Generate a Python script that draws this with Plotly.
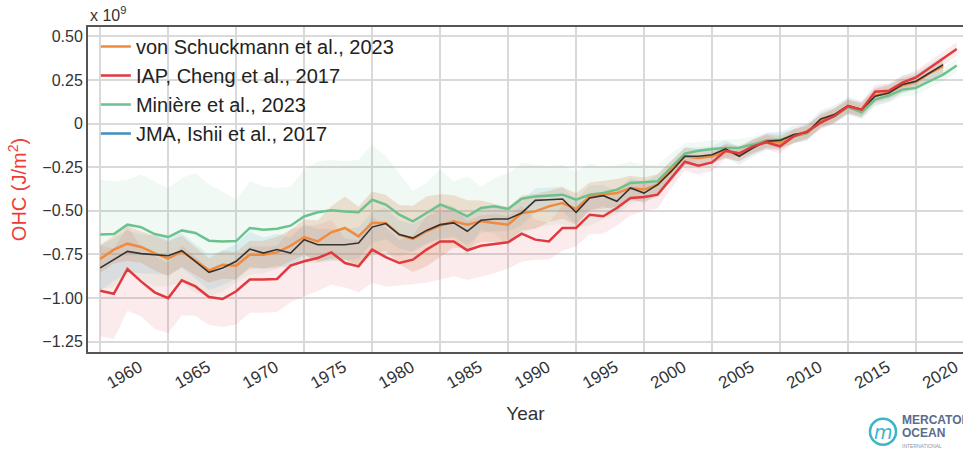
import plotly.graph_objects as go

# ---------------- data (values in units of 1e9 J/m2) ----------------
years_vs = list(range(1958, 2021))     # von Schuckmann et al., 2023
years_iap = list(range(1958, 2022))    # IAP, Cheng et al., 2017
years_min = list(range(1958, 2022))    # Minière et al., 2023
years_jma = list(range(1958, 2021))    # JMA, Ishii et al., 2017

vs_values = [
    -0.776, -0.722, -0.688, -0.707, -0.742, -0.774, -0.732, -0.789, -0.841, -0.809,
    -0.814, -0.751, -0.751, -0.738, -0.700, -0.650, -0.675, -0.623, -0.598, -0.646,
    -0.569, -0.569, -0.636, -0.661, -0.617, -0.585, -0.560, -0.579, -0.560, -0.569,
    -0.579, -0.512, -0.503, -0.474, -0.455, -0.489, -0.417, -0.407, -0.398, -0.369,
    -0.378, -0.350, -0.264, -0.187, -0.197, -0.187, -0.159, -0.175, -0.135, -0.100,
    -0.110, -0.070, -0.050, 0.020, 0.050, 0.100, 0.080, 0.160, 0.180, 0.220,
    0.240, 0.290, 0.330,
]
vs_unc = [
    0.08, 0.08, 0.10, 0.09, 0.10, 0.10, 0.09, 0.08, 0.07, 0.08,
    0.08, 0.08, 0.08, 0.09, 0.09, 0.10, 0.12, 0.15, 0.18, 0.17,
    0.18, 0.16, 0.17, 0.19, 0.20, 0.18, 0.15, 0.14, 0.12, 0.11,
    0.10, 0.10, 0.10, 0.09, 0.09, 0.09, 0.08, 0.08, 0.08, 0.07,
    0.07, 0.06, 0.05, 0.05, 0.05, 0.04, 0.04, 0.04, 0.04, 0.04,
    0.04, 0.04, 0.04, 0.04, 0.04, 0.04, 0.04, 0.04, 0.04, 0.04,
    0.04, 0.04, 0.04,
]

iap_values = [
    -0.958, -0.975, -0.833, -0.904, -0.967, -1.000, -0.898, -0.933, -0.994, -1.005,
    -0.961, -0.894, -0.894, -0.890, -0.814, -0.789, -0.770, -0.738, -0.799, -0.818,
    -0.722, -0.765, -0.799, -0.780, -0.722, -0.675, -0.675, -0.726, -0.700, -0.688,
    -0.680, -0.631, -0.665, -0.675, -0.598, -0.598, -0.522, -0.531, -0.484, -0.426,
    -0.421, -0.407, -0.310, -0.218, -0.241, -0.222, -0.156, -0.170, -0.130, -0.107,
    -0.130, -0.073, -0.044, 0.006, 0.044, 0.100, 0.080, 0.183, 0.188, 0.235,
    0.265, 0.319, 0.373, 0.428,
]
iap_unc = [
    0.26, 0.26, 0.24, 0.20, 0.21, 0.20, 0.20, 0.17, 0.16, 0.16,
    0.19, 0.19, 0.19, 0.19, 0.21, 0.20, 0.19, 0.185, 0.14, 0.15,
    0.19, 0.17, 0.13, 0.14, 0.19, 0.22, 0.20, 0.17, 0.175, 0.17,
    0.15, 0.16, 0.115, 0.105, 0.13, 0.105, 0.11, 0.10, 0.10, 0.10,
    0.08, 0.08, 0.06, 0.05, 0.05, 0.05, 0.045, 0.045, 0.04, 0.04,
    0.04, 0.04, 0.04, 0.04, 0.04, 0.04, 0.04, 0.04, 0.04, 0.04,
    0.04, 0.04, 0.04, 0.04,
]

min_values = [
    -0.636, -0.633, -0.579, -0.593, -0.633, -0.650, -0.612, -0.627, -0.671, -0.675,
    -0.673, -0.598, -0.608, -0.602, -0.585, -0.532, -0.508, -0.497, -0.503, -0.508,
    -0.436, -0.464, -0.522, -0.560, -0.512, -0.464, -0.493, -0.531, -0.483, -0.474,
    -0.489, -0.430, -0.417, -0.413, -0.407, -0.436, -0.407, -0.398, -0.378, -0.340,
    -0.336, -0.330, -0.250, -0.172, -0.155, -0.145, -0.140, -0.138, -0.120, -0.096,
    -0.092, -0.073, -0.054, 0.013, 0.042, 0.095, 0.065, 0.138, 0.161, 0.195,
    0.205, 0.243, 0.281, 0.333,
]
min_unc = [
    0.315, 0.302, 0.258, 0.301, 0.302, 0.281, 0.300, 0.344, 0.321, 0.287,
    0.237, 0.267, 0.248, 0.233, 0.225, 0.268, 0.292, 0.290, 0.287, 0.301,
    0.316, 0.277, 0.239, 0.172, 0.172, 0.200, 0.162, 0.229, 0.123, 0.162,
    0.206, 0.204, 0.18, 0.17, 0.17, 0.16, 0.18, 0.15, 0.14, 0.12,
    0.10, 0.09, 0.08, 0.06, 0.05, 0.05, 0.05, 0.05, 0.045, 0.04,
    0.04, 0.04, 0.04, 0.04, 0.04, 0.04, 0.04, 0.04, 0.04, 0.04,
    0.04, 0.04, 0.04, 0.04,
]

jma_values = [
    -0.827, -0.780, -0.732, -0.745, -0.751, -0.757, -0.728, -0.789, -0.852, -0.827,
    -0.789, -0.719, -0.742, -0.722, -0.742, -0.665, -0.694, -0.694, -0.694, -0.684,
    -0.593, -0.573, -0.636, -0.656, -0.612, -0.579, -0.569, -0.617, -0.554, -0.547,
    -0.547, -0.512, -0.440, -0.436, -0.432, -0.508, -0.426, -0.413, -0.445, -0.369,
    -0.398, -0.350, -0.274, -0.187, -0.187, -0.178, -0.145, -0.187, -0.140, -0.101,
    -0.096, -0.063, -0.050, 0.027, 0.052, 0.103, 0.080, 0.157, 0.176, 0.224,
    0.243, 0.290, 0.338,
]
jma_unc = [
    0.13, 0.12, 0.12, 0.11, 0.11, 0.11, 0.10, 0.10, 0.10, 0.10,
    0.10, 0.10, 0.09, 0.09, 0.09, 0.09, 0.09, 0.09, 0.09, 0.09,
    0.09, 0.09, 0.08, 0.08, 0.08, 0.08, 0.08, 0.08, 0.07, 0.07,
    0.07, 0.07, 0.07, 0.07, 0.07, 0.07, 0.07, 0.06, 0.06, 0.06,
    0.06, 0.06, 0.06, 0.05, 0.05, 0.05, 0.05, 0.05, 0.05, 0.05,
    0.05, 0.05, 0.05, 0.05, 0.05, 0.05, 0.05, 0.05, 0.05, 0.05,
    0.05, 0.05, 0.05,
]

tick_years = [1960, 1965, 1970, 1975, 1980, 1985, 1990, 1995, 2000, 2005, 2010, 2015, 2020]
tick_labels = [str(y) for y in tick_years]
grid_years = [1958, 1963, 1968, 1973, 1978, 1983, 1988, 1993, 1998, 2003, 2008, 2013, 2018]
y_ticks = [-1.25, -1.0, -0.75, -0.5, -0.25, 0, 0.25, 0.5]
y_tick_labels = ["\u22121.25", "\u22121.00", "\u22120.75", "\u22120.50", "\u22120.25", "0", "0.25", "0.50"]

# ---------------- styling ----------------
C_ORANGE = "#f28a3c"
C_RED = "#e0393e"
C_GREEN = "#6cc28e"
C_BLUE = "#3f8fbf"
C_BLACK = "#333333"
FONT = "Liberation Sans, Arial, Helvetica, sans-serif"


def band(x, v, u, fillcolor):
    upper = [a + b for a, b in zip(v, u)]
    lower = [a - b for a, b in zip(v, u)]
    return go.Scatter(
        x=list(x) + list(x)[::-1],
        y=upper + lower[::-1],
        fill="toself",
        fillcolor=fillcolor,
        line=dict(width=0),
        mode="lines",
        hoverinfo="skip",
        showlegend=False,
    )


fig = go.Figure()
fig.add_trace(band(years_min, min_values, min_unc, "rgba(108,194,142,0.10)"))
fig.add_trace(band(years_iap, iap_values, iap_unc, "rgba(230,90,95,0.12)"))
fig.add_trace(band(years_jma, jma_values, jma_unc, "rgba(110,180,215,0.16)"))
fig.add_trace(band(years_vs, vs_values, vs_unc, "rgba(210,120,60,0.20)"))

fig.add_trace(go.Scatter(x=years_min, y=min_values, mode="lines", name="Minière et al., 2023",
                         line=dict(color=C_GREEN, width=2.5), legendrank=3, legendgroup="c"))
fig.add_trace(go.Scatter(x=years_vs, y=vs_values, mode="lines", name="von Schuckmann et al., 2023",
                         line=dict(color=C_ORANGE, width=2.5), legendrank=1, legendgroup="a"))
fig.add_trace(go.Scatter(x=years_jma, y=jma_values, mode="lines", name="JMA, Ishii et al., 2017",
                         line=dict(color=C_BLACK, width=1.6), showlegend=False))
fig.add_trace(go.Scatter(x=years_iap, y=iap_values, mode="lines", name="IAP, Cheng et al., 2017",
                         line=dict(color=C_RED, width=2.5), legendrank=2, legendgroup="b"))
fig.add_trace(go.Scatter(x=[None], y=[None], mode="lines", name="JMA, Ishii et al., 2017",
                         line=dict(color=C_BLUE, width=2.5), legendrank=4, legendgroup="d"))

fig.update_layout(
    width=963, height=454,
    margin=dict(l=88, r=0, t=27, b=102),
    paper_bgcolor="white", plot_bgcolor="white",
    font=dict(family=FONT, color="#333333", size=16),
    showlegend=True,
    legend=dict(x=0.009, y=1.0, xanchor="left", yanchor="top",
                bgcolor="rgba(0,0,0,0)", font=dict(size=20, color="#222222"),
                tracegroupgap=0, itemwidth=30),
    xaxis=dict(
        range=[1957.1, 2021.46],
        tickvals=tick_years, ticktext=tick_labels, tickangle=-30,
        ticklabelshift=12, ticklabelstandoff=-3, ticklabeloverflow="allow",
        showgrid=False, zeroline=False, ticks="",
        showline=True, linecolor="#555555", linewidth=2, mirror=True,
        minor=dict(tickvals=grid_years, showgrid=True, gridcolor="#d9d9d9", gridwidth=1.5, ticks=""),
        title=dict(text="Year", font=dict(size=19, color="#333333"), standoff=15),
        tickfont=dict(size=17, color="#333333"),
    ),
    yaxis=dict(
        range=[-1.309, 0.554],
        tickvals=y_ticks, ticktext=y_tick_labels,
        showgrid=True, gridcolor="#d9d9d9", gridwidth=1.5,
        zeroline=False, ticks="",
        showline=True, linecolor="#555555", linewidth=2,
        title=dict(text="OHC (J/m<sup>2</sup>)", font=dict(size=20, color="#ee3b36"), standoff=10),
        tickfont=dict(size=16, color="#333333"),
    ),
)

# exponent label
fig.add_annotation(xref="paper", yref="paper", x=0, y=1, xanchor="left", yanchor="bottom",
                   text="x 10<sup>9</sup>", showarrow=False, yshift=1,
                   font=dict(size=16, color="#333333"))

# logo (Mercator Ocean International)
fig.add_shape(type="circle", xref="paper", yref="paper",
              x0=(870 - 88) / 875, x1=(896 - 88) / 875,
              y0=(352.3 - 445) / 325, y1=(352.3 - 419) / 325,
              line=dict(color="#3cb4c9", width=2.5))
fig.add_annotation(xref="paper", yref="paper", x=(883 - 88) / 875, y=(352.3 - 432) / 325,
                   xanchor="center", yanchor="middle",
                   text="<i>m</i>", showarrow=False, font=dict(size=19, color="#3cb4c9", family="DejaVu Sans"))
fig.add_annotation(xref="paper", yref="paper", x=(901 - 88) / 875, y=(352.3 - 420) / 325,
                   xanchor="left", yanchor="middle", text="<b>MERCATOR</b>", showarrow=False,
                   font=dict(size=12, color="#5a6c8c"), borderpad=0)
fig.add_annotation(xref="paper", yref="paper", x=(901 - 88) / 875, y=(352.3 - 433) / 325,
                   xanchor="left", yanchor="middle", text="<b>OCEAN</b>", showarrow=False,
                   font=dict(size=12, color="#5a6c8c"), borderpad=0)
fig.add_annotation(xref="paper", yref="paper", x=(901 - 88) / 875, y=(352.3 - 446) / 325,
                   xanchor="left", yanchor="middle", text="INTERNATIONAL", showarrow=False,
                   font=dict(size=5, color="#8899aa"), borderpad=0)

fig.write_html("out.html", config={"displayModeBar": False},
               post_script="document.body.style.margin='0';")
